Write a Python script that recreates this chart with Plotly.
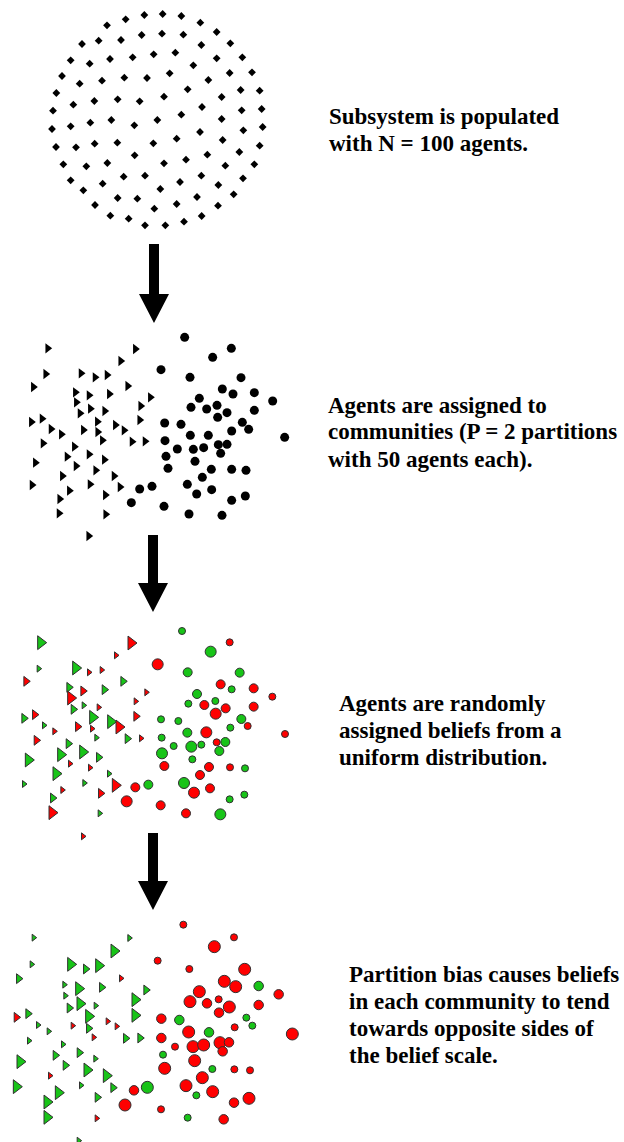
import plotly.graph_objects as go

W, H = 624, 1142

# ---------------- Panel 1: 100 agents (diamonds) ----------------
p1_x = [313,368,424,257,481,201,530,305,366,430,
        126,176,243,484,571,406,341,278,210,92,
        149,530,607,460,389,636,569,66,119,186,
        253,321,505,443,602,659,49,372,545,163,
        233,299,100,486,665,605,39,424,151,214,
        283,352,545,610,668,36,92,480,410,548,
        164,232,340,48,108,659,598,502,284,438,
        372,70,139,202,556,643,92,188,251,315,
        420,484,609,130,361,535,581,233,292,471,
        165,343,410,534,211,266,432,485,315,376]
p1_y = [45,42,48,58,68,76,96,105,101,104,
        132,122,120,135,130,158,163,172,177,181,
        191,175,172,196,220,217,219,228,251,242,
        233,234,240,268,270,272,279,290,291,303,
        298,304,314,321,327,331,332,344,368,360,
        376,360,357,391,381,387,379,396,416,420,
        431,428,430,441,442,437,456,464,466,479,
        490,493,499,489,497,493,541,551,530,527,
        546,527,535,571,567,555,583,594,596,591,
        615,626,612,617,647,656,665,648,676,676]

# ---------------- Panel 2: two communities ----------------
p2_tri_x = [113,376,332,107,213,255,291,70,353,196,237,298,421,199,392,241,210,284,64,96,
            262,389,123,154,220,263,316,342,277,99,366,405,193,171,237,76,283,198,257,157,
            312,66,240,330,178,286,149,147,287,236]
p2_tri_y = [70,72,108,147,145,157,150,186,183,202,211,207,217,232,243,251,265,258,291,281,
            290,285,312,328,315,321,300,316,346,355,350,349,365,395,388,413,404,423,436,453,
            453,480,478,486,497,510,522,565,568,633]
p2_cir_x = [524,664,608,453,540,693,637,669,733,568,788,543,590,621,623,651,733,464,513,697,
            716,665,541,595,824,465,502,550,581,625,651,632,468,555,474,604,665,708,577,532,
            605,389,426,560,665,706,364,462,537,636]
p2_cir_y = [37,70,97,134,157,158,192,207,203,220,228,247,252,241,277,263,256,294,298,292,
            313,318,331,331,337,347,372,373,368,359,358,385,394,409,430,433,433,436,457,478,
            494,492,484,507,526,513,533,544,567,571]

# ---------------- Panel 3: random beliefs (x, y, belief side, strength) ----------------
p3_triangles = [(92,68,'g',3),(363,69,'r',3),(318,106,'r',1),(86,146,'g',1),(197,144,'g',3),
    (237,157,'r',1),(275,150,'r',1),(48,184,'r',2),(339,184,'g',2),(177,202,'g',2),
    (219,213,'r',2),(283,209,'g',2),(409,217,'r',1),(182,234,'r',3),(377,244,'r',1),
    (221,256,'g',1),(190,268,'g',2),(266,262,'r',1),(42,295,'g',2),(74,284,'r',2),
    (248,292,'g',3),(378,289,'r',2),(102,316,'g',1),(133,334,'r',1),(203,320,'r',2),
    (246,326,'r',1),(302,305,'g',3),(327,321,'r',3),(259,353,'g',1),(79,361,'r',2),
    (352,356,'g',2),(393,355,'r',1),(175,371,'g',2),(152,404,'g',3),(218,396,'g',3),
    (55,420,'g',3),(266,412,'g',2),(180,431,'r',1),(240,443,'r',1),(138,461,'g',3),
    (297,461,'g',1),(42,492,'g',1),(223,489,'g',1),(316,496,'r',3),(157,510,'r',1),
    (272,520,'r',2),(128,534,'g',2),(126,578,'r',3),(269,580,'g',1),(219,649,'r',1)]
p3_circles = [(516,33,'g',1),(659,67,'r',1),(602,95,'g',3),(443,133,'r',3),(533,157,'g',2),
    (689,158,'g',2),(632,193,'r',2),(665,208,'g',1),(731,205,'r',2),(561,222,'g',2),
    (787,230,'r',1),(535,251,'g',1),(583,255,'r',2),(616,243,'g',1),(617,281,'r',3),
    (647,265,'r',2),(731,260,'r',2),(453,298,'g',1),(505,303,'g',1),(694,297,'g',2),
    (713,318,'r',1),(661,323,'g',1),(532,338,'g',2),(589,337,'r',3),(825,342,'r',1),
    (455,353,'g',1),(491,378,'g',1),(544,380,'g',3),(574,374,'g',1),(620,367,'r',1),
    (646,366,'g',2),(628,393,'g',2),(456,400,'g',3),(547,418,'g',1),(463,438,'r',2),
    (597,441,'r',2),(660,442,'r',1),(705,445,'g',1),(570,465,'r',2),(522,489,'g',3),
    (600,505,'r',2),(415,494,'g',2),(376,502,'r',2),(552,518,'r',3),(659,538,'g',1),
    (703,524,'g',1),(350,544,'r',3),(452,556,'r',2),(528,580,'r',2),(631,583,'g',3)]

# ---------------- Panel 4: partition bias ----------------
p4_triangles = [(101,83,'g',1),(388,84,'g',1),(342,123,'g',3),(95,163,'g',1),(212,163,'g',3),
    (257,177,'g',2),(296,167,'g',3),(56,206,'g',2),(363,205,'r',1),(193,224,'g',1),
    (236,236,'g',3),(305,232,'g',2),(438,240,'g',2),(196,257,'g',1),(240,281,'g',3),
    (287,287,'g',1),(208,294,'g',2),(405,269,'g',3),(49,322,'r',2),(84,311,'g',2),
    (266,319,'g',3),(405,316,'g',3),(114,345,'g',1),(146,364,'g',1),(218,347,'r',1),
    (266,355,'g',2),(323,334,'r',1),(350,349,'r',1),(281,382,'r',1),(87,392,'g',1),
    (377,385,'g',2),(420,384,'g',2),(189,403,'g',1),(166,436,'g',2),(238,428,'g',2),
    (60,455,'g',3),(286,446,'g',1),(196,466,'g',2),(261,480,'g',3),(319,497,'g',3),
    (150,497,'r',1),(49,530,'g',3),(243,526,'g',1),(339,533,'g',2),(175,548,'g',3),
    (292,562,'g',2),(141,576,'g',3),(141,622,'g',3),(290,625,'r',1),(236,692,'g',1)]
p4_circles = [(550,44,'r',1),(702,82,'r',1),(643,110,'r',3),(473,152,'r',1),(568,177,'r',1),
    (734,178,'r',3),(673,214,'r',3),(707,230,'r',3),(776,228,'g',2),(598,245,'r',3),
    (836,253,'r',2),(570,275,'r',3),(621,280,'r',2),(656,268,'r',1),(688,291,'r',3),
    (657,308,'r',2),(776,285,'r',2),(484,326,'r',2),(538,330,'g',2),(739,323,'g',1),
    (757,347,'g',1),(704,352,'r',1),(566,366,'r',3),(627,367,'g',2),(877,372,'r',3),
    (484,384,'r',2),(525,410,'r',1),(579,410,'r',3),(611,405,'r',3),(660,398,'r',3),
    (687,397,'r',2),(668,424,'r',2),(489,434,'g',1),(584,452,'r',3),(494,475,'r',3),
    (637,477,'g',1),(703,478,'r',1),(750,481,'r',1),(607,503,'r',3),(558,527,'r',3),
    (442,532,'g',3),(402,541,'r',2),(589,556,'g',1),(638,545,'r',3),(747,565,'r',3),
    (702,578,'r',2),(375,585,'r',3),(483,598,'r',1),(563,623,'g',1),(671,628,'r',2)]

# ---------------- Text ----------------
captions = [
    ["Subsystem is populated", "with N = 100 agents."],
    ["Agents are assigned to", "communities (P = 2 partitions", "with 50 agents each)."],
    ["Agents are randomly", "assigned beliefs from a", "uniform distribution."],
    ["Partition bias causes beliefs", "in each community to tend",
     "towards opposite sides of", "the belief scale."],
]

# ---------------- Layout / styling ----------------
# panel frames in page pixels: (left, top, width, height); data units are 1/3 px
panels = [(40, 0, 240, 235), (10, 325, 290, 220), (10, 620, 290, 220), (0, 910, 305, 232)]
caption_pos = [(327, 116), (326, 405), (337, 703), (347, 974)]
line_gap = 27
arrow_tops = [(154, 244, 323), (153, 535, 612), (153, 833, 910)]

GREEN = '#18c418'
RED = '#ff0000'
colmap = {'g': GREEN, 'r': RED}
tri_size = {1: 6, 2: 8.5, 3: 12}
cir_size = {1: 7, 2: 9, 3: 11}
cir_size4 = {1: 7, 2: 9.5, 3: 12}

fig = go.Figure()


def ax_name(i, kind):
    return kind + ('' if i == 0 else str(i + 1))


for i, (l, t, w, h) in enumerate(panels):
    xa = dict(domain=[l / W, (l + w) / W], range=[0, 3 * w], visible=False,
              fixedrange=True)
    ya = dict(domain=[1 - (t + h) / H, 1 - t / H], range=[3 * h, 0], visible=False,
              fixedrange=True)
    if i > 0:
        xa['anchor'] = 'y' + str(i + 1)
        ya['anchor'] = 'x' + str(i + 1)
    fig.layout[ax_name(i, 'xaxis')] = xa
    fig.layout[ax_name(i, 'yaxis')] = ya


def xy(i):
    return dict(xaxis='x' if i == 0 else 'x' + str(i + 1),
                yaxis='y' if i == 0 else 'y' + str(i + 1))


fig.add_trace(go.Scatter(x=p1_x, y=p1_y, mode='markers', cliponaxis=False,
                         marker=dict(symbol='diamond', size=6, color='black', opacity=1),
                         hoverinfo='skip', **xy(0)))
fig.add_trace(go.Scatter(x=p2_tri_x, y=p2_tri_y, mode='markers', cliponaxis=False,
                         marker=dict(symbol='triangle-right', size=9, color='black', opacity=1),
                         hoverinfo='skip', **xy(1)))
fig.add_trace(go.Scatter(x=p2_cir_x, y=p2_cir_y, mode='markers', cliponaxis=False,
                         marker=dict(symbol='circle', size=9, color='black', opacity=1),
                         hoverinfo='skip', **xy(1)))


def add_group(pts, symbol, smap, i):
    xs = [p[0] for p in pts]
    ys = [p[1] for p in pts]
    cs = [colmap[p[2]] for p in pts]
    ss = [smap[p[3]] for p in pts]
    fig.add_trace(go.Scatter(x=xs, y=ys, mode='markers', cliponaxis=False,
                             marker=dict(symbol=symbol, size=ss, color=cs, opacity=1,
                                         line=dict(color='#303030', width=1)),
                             hoverinfo='skip', **xy(i)))


add_group(p3_triangles, 'triangle-right', tri_size, 2)
add_group(p3_circles, 'circle', cir_size, 2)
add_group(p4_triangles, 'triangle-right', tri_size, 3)
add_group(p4_circles, 'circle', cir_size4, 3)

# arrows
for cx, top, tip in arrow_tops:
    head_h = 29
    sw, hw = 5, 15
    pts = [(cx - sw, top), (cx + sw, top), (cx + sw, tip - head_h), (cx + hw, tip - head_h),
           (cx, tip), (cx - hw, tip - head_h), (cx - sw, tip - head_h)]
    path = 'M ' + ' L '.join(f'{x / W:.5f},{1 - y / H:.5f}' for x, y in pts) + ' Z'
    fig.add_shape(type='path', path=path, xref='paper', yref='paper',
                  fillcolor='black', line=dict(color='black', width=0))

# captions
for (px, py), lines in zip(caption_pos, captions):
    for k, line in enumerate(lines):
        fig.add_annotation(x=px / W, y=1 - (py + k * line_gap) / H, xref='paper', yref='paper',
                           text='<b>' + line + '</b>', showarrow=False,
                           xanchor='left', yanchor='middle', align='left',
                           font=dict(family='Liberation Serif', size=23, color='black'))

fig.update_layout(width=W, height=H, margin=dict(l=0, r=0, t=0, b=0),
                  paper_bgcolor='white', plot_bgcolor='white', showlegend=False)

fig.write_html('out.html', config={'displayModeBar': False},
               post_script="document.body.style.margin='0';document.body.style.overflow='hidden';")
